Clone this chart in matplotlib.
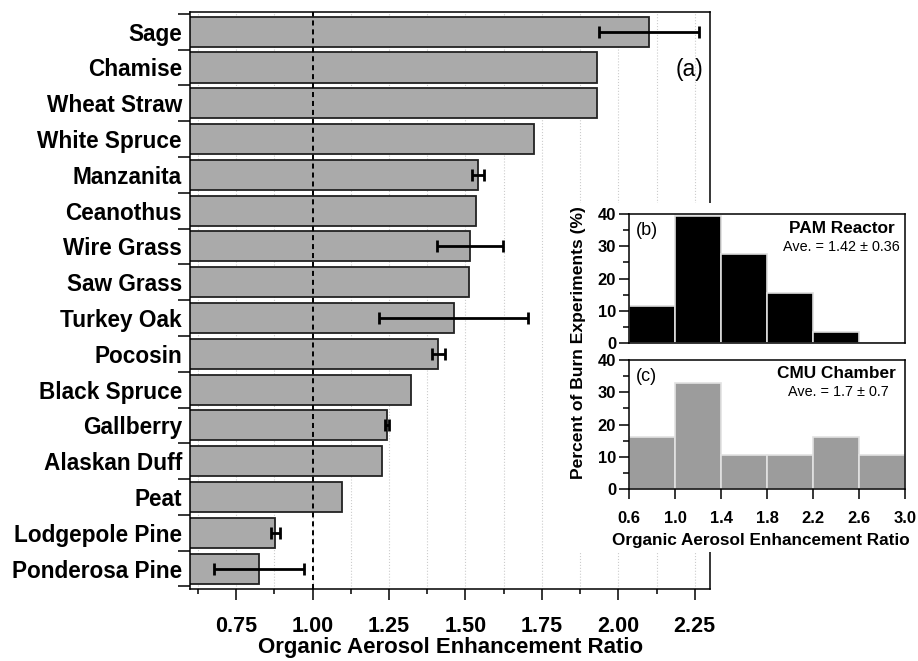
import matplotlib
matplotlib.use('Agg')
import matplotlib.pyplot as plt
import numpy as np
from matplotlib.ticker import MultipleLocator, FixedLocator

plt.rcParams['font.family'] = ['Liberation Sans', 'DejaVu Sans']

# ---------------- data ----------------
fuels = ["Sage", "Chamise", "Wheat Straw", "White Spruce", "Manzanita", "Ceanothus",
         "Wire Grass", "Saw Grass", "Turkey Oak", "Pocosin", "Black Spruce", "Gallberry",
         "Alaskan Duff", "Peat", "Lodgepole Pine", "Ponderosa Pine"]
oa_ratio = [2.10, 1.93, 1.93, 1.725, 1.541, 1.535, 1.515, 1.511, 1.461, 1.411,
            1.323, 1.243, 1.227, 1.096, 0.878, 0.825]
oa_err = [0.163, 0, 0, 0, 0.02, 0, 0.109, 0, 0.245, 0.022,
          0, 0.007, 0, 0, 0.015, 0.148]

bin_edges = [0.6, 1.0, 1.4, 1.8, 2.2, 2.6, 3.0]
pam_pct = [11.4, 39.5, 27.5, 15.5, 3.4, 0]
cmu_pct = [16.2, 32.9, 10.6, 10.6, 16.2, 10.6]

x_major_ticks = [0.75, 1.00, 1.25, 1.50, 1.75, 2.00, 2.25]
x_tick_labels = ["0.75", "1.00", "1.25", "1.50", "1.75", "2.00", "2.25"]
inset_xticks = [0.6, 1.0, 1.4, 1.8, 2.2, 2.6, 3.0]
inset_xlabels = ["0.6", "1.0", "1.4", "1.8", "2.2", "2.6", "3.0"]

# ---------------- figure ----------------
W, H = 918, 661
fig = plt.figure(figsize=(W / 100, H / 100), dpi=100)

def fa(l, t, r, b):
    return [l / W, 1 - b / H, (r - l) / W, (b - t) / H]

ax = fig.add_axes(fa(190.3, 12, 710, 589))
n = len(fuels)
ypos = np.arange(n)[::-1]

ax.barh(ypos, oa_ratio, height=0.84, color='#aaaaaa', edgecolor='#222222',
        linewidth=1.3, zorder=2)
ax.axvline(1.0, color='black', linestyle=(0, (2.6, 2.0)), linewidth=1.4, zorder=3)
err = np.array(oa_err)
vals = np.array(oa_ratio)
m = err > 0
ax.errorbar(vals[m], ypos[m], xerr=err[m], fmt='none', ecolor='black',
            elinewidth=2.0, capsize=4, capthick=2.0, zorder=4)

ax.set_xlim(0.6, 2.3)
ax.set_ylim(-0.57, 15.55)
ax.set_axisbelow(True)

ax.xaxis.set_major_locator(FixedLocator(x_major_ticks))
ax.set_xticklabels(x_tick_labels, fontsize=15.5, fontweight='bold')
ax.xaxis.set_minor_locator(MultipleLocator(0.125))
ax.tick_params(axis='x', which='major', direction='out', length=8, width=1.1, pad=11.5)
ax.tick_params(axis='x', which='minor', direction='out', length=3.9, width=1.1)
ax.grid(True, which='both', axis='x', color='#cccccc', linestyle=':', linewidth=0.8)

ax.set_yticks(ypos)
ax.set_yticklabels(fuels, fontsize=16.3, fontweight='bold')
ax.yaxis.set_minor_locator(FixedLocator(np.arange(-0.5, n, 1.0)))
ax.tick_params(axis='y', which='major', length=0, pad=6)
ax.tick_params(axis='y', which='minor', direction='out', length=8.6, width=1.1)

for s in ax.spines.values():
    s.set_linewidth(1.1)

ax.set_xlabel("Organic Aerosol Enhancement Ratio", fontsize=16, fontweight='bold',
              labelpad=0)
ax.text(0.9865, 0.8995, "(a)", transform=ax.transAxes, ha='right', va='center',
        fontsize=16.5)

# white background behind insets
bg = fig.add_axes(fa(555, 203, 918, 552), zorder=5)
bg.set_facecolor('white')
bg.set_xticks([])
bg.set_yticks([])
for s in bg.spines.values():
    s.set_visible(False)

def style_inset(a):
    a.set_xlim(0.6, 3.0)
    a.set_ylim(0, 40)
    a.yaxis.set_major_locator(FixedLocator([0, 10, 20, 30, 40]))
    a.yaxis.set_minor_locator(FixedLocator([5, 15, 25, 35]))
    a.set_yticklabels(["0", "10", "20", "30", "40"], fontsize=11.9, fontweight='bold')
    a.tick_params(axis='y', which='major', direction='out', length=7.5, width=1.1, pad=2)
    a.tick_params(axis='y', which='minor', direction='out', length=4.5, width=1.1)
    for s in a.spines.values():
        s.set_linewidth(1.1)

axb = fig.add_axes(fa(629.3, 214, 905, 343.3), zorder=6)
axb.bar(bin_edges[:-1], pam_pct, width=0.4, align='edge', color='black',
        edgecolor='#dddddd', linewidth=1.2)
style_inset(axb)
axb.set_xticks(inset_xticks)
axb.tick_params(axis='x', length=0, labelbottom=False)
axb.text(0.024, 0.876, "(b)", transform=axb.transAxes, ha='left', va='center', fontsize=13)
axb.text(0.963, 0.884, "PAM Reactor", transform=axb.transAxes, ha='right', va='center',
         fontsize=12.4, fontweight='bold')
axb.text(0.981, 0.745, "Ave. = 1.42 ± 0.36", transform=axb.transAxes, ha='right',
         va='center', fontsize=10.4)

axc = fig.add_axes(fa(629.3, 360, 905, 489.3), zorder=6)
axc.bar(bin_edges[:-1], cmu_pct, width=0.4, align='edge', color='#9c9c9c',
        edgecolor='#e2e2e2', linewidth=1.2)
style_inset(axc)
axc.set_xticks(inset_xticks)
axc.set_xticklabels(inset_xlabels, fontsize=11.9, fontweight='bold')
axc.tick_params(axis='x', direction='out', length=7.5, width=1.1, pad=8)
axc.text(0.024, 0.869, "(c)", transform=axc.transAxes, ha='left', va='center', fontsize=13)
axc.text(0.967, 0.899, "CMU Chamber", transform=axc.transAxes, ha='right', va='center',
         fontsize=12.4, fontweight='bold')
axc.text(0.942, 0.753, "Ave. = 1.7 ± 0.7", transform=axc.transAxes, ha='right',
         va='center', fontsize=10.4)

fig.text(578 / W, 1 - 343 / H, "Percent of Burn Experiments (%)", rotation=90,
         ha='center', va='center', fontsize=12.6, fontweight='bold', zorder=7)
fig.text(761 / W, 1 - 541 / H, "Organic Aerosol Enhancement Ratio", ha='center',
         va='center', fontsize=12.3, fontweight='bold', zorder=7)

fig.savefig("out.png", dpi=100, facecolor='white')
